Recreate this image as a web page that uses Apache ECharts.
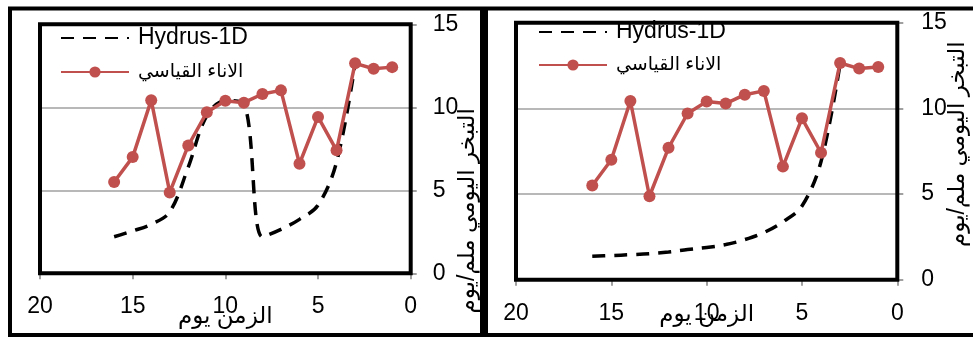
<!DOCTYPE html>
<html>
<head>
<meta charset="utf-8">
<script src="https://cdn.jsdelivr.net/npm/echarts@6/dist/echarts.min.js"></script>
<style>
html,body{margin:0;padding:0;background:#fff;}
#chart{width:973px;height:338px;}
</style>
</head>
<body>
<div id="chart"></div>
<script>
// ---- data ----
const days = [16, 15, 14, 13, 12, 11, 10, 9, 8, 7, 6, 5, 4, 3, 2, 1];
const measured = [5.5, 7.0, 10.43, 4.87, 7.7, 9.7, 10.4, 10.28, 10.8, 11.02, 6.6, 9.42, 7.41, 12.65, 12.32, 12.42];
const hydrusDays = [16, 15, 14, 13, 12, 11, 10, 9, 8, 7, 6, 5, 4, 3];
const hydrusLeft = [2.2, 2.55, 2.95, 3.7, 6.4, 9.5, 10.4, 10.2, 2.2, 2.65, 3.25, 4.1, 6.7, 12.6];
const hydrusRight = [1.37, 1.41, 1.46, 1.52, 1.62, 1.76, 1.88, 2.05, 2.34, 2.75, 3.38, 4.3, 6.9, 12.6];
const xTicks = [0, 5, 10, 15, 20];
const yTicks = [0, 5, 10, 15];
const seriesNames = ['Hydrus-1D', 'الاناء القياسي'];
const xTitle = 'الزمن يوم';
const yTitle = 'التبخر اليومي ملم/يوم';

const FONT = "'Liberation Sans', Arial, 'DejaVu Sans', sans-serif";
const RED = '#c0504d';
const GREY = '#a0a0a0';

function pairs(xs, ys) { return xs.map((x, i) => [x, ys[i]]); }

function xAxisFor(gi, nameGap, margin) {
  return {
    gridIndex: gi, type: 'value', inverse: true,
    min: xTicks[0], max: xTicks[xTicks.length - 1], interval: xTicks[1] - xTicks[0],
    position: 'bottom', offset: 2,
    axisLine: { show: true, lineStyle: { color: GREY, width: 2 } },
    axisTick: { show: true, length: 6, lineStyle: { color: GREY, width: 2 } },
    axisLabel: { color: '#000', fontSize: 23, fontFamily: FONT, margin: margin },
    splitLine: { show: false },
    name: xTitle, nameLocation: 'middle', nameGap: nameGap, nameMoveOverlap: false,
    nameTextStyle: { color: '#000', fontSize: 23, fontFamily: FONT }
  };
}
function yAxisFor(gi, nameGap, margin, pad) {
  return {
    gridIndex: gi, type: 'value',
    min: yTicks[0], max: yTicks[yTicks.length - 1], interval: yTicks[1] - yTicks[0],
    position: 'right', offset: 2,
    axisLine: { show: true, lineStyle: { color: GREY, width: 2 } },
    axisTick: { show: true, length: 6, lineStyle: { color: GREY, width: 2 } },
    axisLabel: { color: '#000', fontSize: 23, fontFamily: FONT, margin: margin },
    splitLine: { show: true, lineStyle: { color: GREY, width: 1.5 } },
    name: yTitle, nameLocation: 'middle', nameRotate: 90, nameGap: nameGap, nameMoveOverlap: false,
    nameTextStyle: { color: '#000', fontSize: 23, fontFamily: FONT, padding: pad }
  };
}
function hydrusSeries(gi, vals) {
  return {
    name: seriesNames[0], type: 'line', xAxisIndex: gi, yAxisIndex: gi,
    data: pairs(hydrusDays, vals), smooth: 0.35, symbol: 'none',
    lineStyle: { color: '#000', width: 3.5, type: [13, 9] },
    itemStyle: { color: '#000' }, z: 2
  };
}
function measuredSeries(gi) {
  return {
    name: seriesNames[1], type: 'line', xAxisIndex: gi, yAxisIndex: gi,
    data: pairs(days, measured), symbol: 'circle', symbolSize: 12,
    lineStyle: { color: RED, width: 3.5 }, itemStyle: { color: RED }, z: 3
  };
}
function legendFor(name, left, top, fs, hideSymbol) {
  return {
    data: [{ name: name }], left: left, top: top, orient: 'vertical',
    itemWidth: 68, itemHeight: 14, padding: 0, selectedMode: false,
    itemStyle: hideSymbol ? { opacity: 0 } : {},
    textStyle: { color: '#000', fontSize: fs, fontFamily: FONT, padding: [0, 0, 0, 4] }
  };
}

const chart = echarts.init(document.getElementById('chart'), null, { renderer: 'canvas' });
chart.setOption({
  animation: false,
  backgroundColor: '#fff',
  grid: [
    { left: 40, top: 24.3, width: 370.7, height: 249, show: true, borderColor: '#000', borderWidth: 4, backgroundColor: 'transparent', outerBoundsMode: 'none', containLabel: false, z: 10 },
    { left: 516, top: 22.7, width: 381.3, height: 257, show: true, borderColor: '#000', borderWidth: 4, backgroundColor: 'transparent', outerBoundsMode: 'none', containLabel: false, z: 10 }
  ],
  xAxis: [xAxisFor(0, 30, 20), xAxisFor(1, 21, 20)],
  yAxis: [yAxisFor(0, 43, 20, [0, 124, 0, 0]), yAxisFor(1, 47, 22, [0, 0, 0, 14])],
  legend: [
    legendFor(seriesNames[0], 60, 26.5, 23, true),
    legendFor(seriesNames[1], 60, 62.5, 19, false),
    legendFor(seriesNames[0], 538, 20.5, 23, true),
    legendFor(seriesNames[1], 538, 55.5, 19, false)
  ],
  series: [
    hydrusSeries(0, hydrusLeft), measuredSeries(0),
    hydrusSeries(1, hydrusRight), measuredSeries(1)
  ],
  graphic: [
    { type: 'rect', shape: { x: 10, y: 8.5, width: 472, height: 326.5 }, style: { fill: 'none', stroke: '#000', lineWidth: 4 }, silent: true },
    { type: 'rect', shape: { x: 486, y: 8.5, width: 500, height: 326.5 }, style: { fill: 'none', stroke: '#000', lineWidth: 4 }, silent: true }
  ]
});
</script>
</body>
</html>
